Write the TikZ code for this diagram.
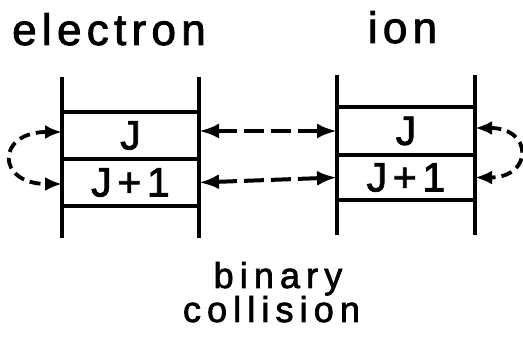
\documentclass[tikz,border=0pt]{standalone}
\usepackage{fontspec}
\setmainfont{Liberation Sans}
\newfontfamily\wideA[LetterSpace=12,FakeBold=2]{Liberation Sans}
\newfontfamily\wideB[LetterSpace=17,FakeBold=2]{Liberation Sans}
\newfontfamily\wideC[LetterSpace=14,FakeBold=2]{Liberation Sans}
\usetikzlibrary{arrows.meta}
\tikzset{
  rail/.style={line width=4.5pt},
  level/.style={draw, line width=4.5pt, minimum width=#1, inner sep=0pt, outer sep=0pt},
  link/.style={line width=4pt, dash pattern=on 20pt off 7pt, {Latex[length=20pt,width=15pt]}-{Latex[length=20pt,width=15pt]}},
  loop/.style={line width=3.8pt, dash pattern=on 11pt off 6pt, {Latex[length=17pt,width=14pt]}-{Latex[length=17pt,width=14pt]}},
  big/.style={font=\wideA\fontsize{44}{44}\selectfont, inner sep=0pt, anchor=base},
  small/.style={font=\wideB\fontsize{36}{36}\selectfont, inner sep=0pt, anchor=base},
  qn/.style={font=\wideC\fontsize{41}{41}\selectfont}
}
\begin{document}
\begin{tikzpicture}[x=1pt,y=-1pt]
\useasboundingbox (0,0) rectangle (523,339);

% electron levels
\node[level=137pt, minimum height=47pt] (eJ) at (130.5,135.5) {};
\node[level=137pt, minimum height=47pt] (eJ1) at (130.5,182.5) {};
\node[qn] (eJt) at (eJ) {J};
\node[qn] (eJ1t) at (eJ1) {J+1};
\draw[rail] (eJ.north west) -- ++(0,-35) (eJ1.south west) -- ++(0,32);
\draw[rail] (eJ.north east) -- ++(0,-35) (eJ1.south east) -- ++(0,32);

% ion levels
\node[level=138pt, minimum height=48pt] (iJ) at (406,131) {};
\node[level=138pt, minimum height=45pt] (iJ1) at (406,177.5) {};
\node[qn] (iJt) at (iJ) {J};
\node[qn] (iJ1t) at (iJ1) {J+1};
\draw[rail] (iJ.north west) -- ++(0,-32) (iJ1.south west) -- ++(0,35);
\draw[rail] (iJ.north east) -- ++(0,-32) (iJ1.south east) -- ++(0,35);

% exchange between the two partners
\draw[link] ([yshift=4.5pt]eJ.east) -- (iJ.west);
\draw[link] (eJ1.east) -- (iJ1.west);

% transitions within each partner
\draw[loop] ([yshift=3.5pt]eJ.west) .. controls +(-66,0) and +(-66,0) .. ([yshift=-1.5pt]eJ1.west);
\draw[loop] ([yshift=3pt]iJ.east) .. controls +(58,0) and +(58,0) .. (iJ1.east);

% labels
\node[big] (el) at (109,45) {electron};
\node[big] (ion) at (402.5,43) {ion};
\node[small] (bin) at (278,288) {binary};
\node[small] (col) at (271.5,322) {collision};
\end{tikzpicture}
\end{document}
